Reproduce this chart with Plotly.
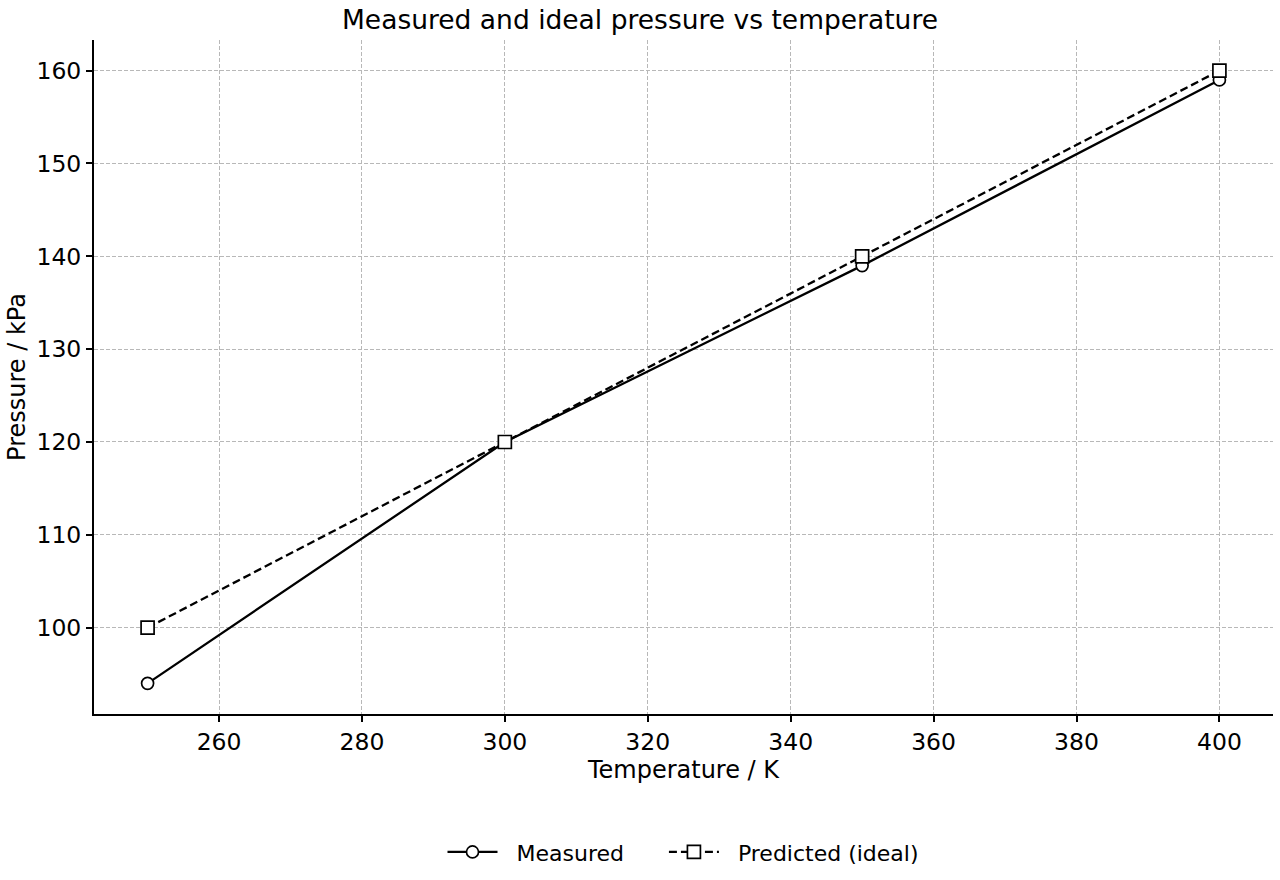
import plotly.graph_objects as go

temperature = [250, 300, 350, 400]
measured = [94, 120, 139, 159]
predicted = [100, 120, 140, 160]
x_ticks = [260, 280, 300, 320, 340, 360, 380, 400]
y_ticks = [100, 110, 120, 130, 140, 150, 160]

NB = "\u00a0"
fig = go.Figure()
fig.add_trace(go.Scatter(
    x=temperature, y=measured, name=NB * 2 + "Measured" + NB * 5, mode="lines+markers",
    line=dict(color="black", width=2.3),
    marker=dict(symbol="circle", size=12, color="white", line=dict(color="black", width=1.7)),
))
fig.add_trace(go.Scatter(
    x=temperature, y=predicted, name=NB * 2 + "Predicted (ideal)", mode="lines+markers",
    line=dict(color="black", width=2.3, dash="8px,4px"),
    marker=dict(symbol="square", size=13, color="white", line=dict(color="black", width=1.7)),
))

axis_common = dict(
    showline=True, linecolor="black", linewidth=2, mirror=False,
    ticks="outside", ticklen=6, tickwidth=1.6, tickcolor="black",
    showgrid=True, gridcolor="#b8b8b8", griddash="4px,2px", gridwidth=1,
    zeroline=False, tickfont=dict(size=23.5, color="black"),
)
fig.update_xaxes(range=[242.5, 407.5], tickvals=x_ticks,
                 title=dict(text="Temperature / K", font=dict(size=24, color="black"), standoff=4),
                 **axis_common)
fig.update_yaxes(range=[90.7, 163.3], tickvals=y_ticks,
                 title=dict(text="Pressure / kPa", font=dict(size=24, color="black"), standoff=4),
                 **axis_common)

fig.update_layout(
    width=1280, height=880,
    font=dict(family="DejaVu Sans", color="black"),
    plot_bgcolor="white", paper_bgcolor="white",
    margin=dict(l=94, r=7, t=40, b=166),
    title=dict(text="Measured and ideal pressure vs temperature", x=0.5, xanchor="center",
               y=0.978, yanchor="middle", font=dict(size=26.5, color="black")),
    legend=dict(orientation="h", x=0.5, xanchor="center", y=-0.205, yanchor="middle",
                font=dict(size=22, color="black"), itemwidth=50),
    showlegend=True,
)

fig.write_html("out.html")
